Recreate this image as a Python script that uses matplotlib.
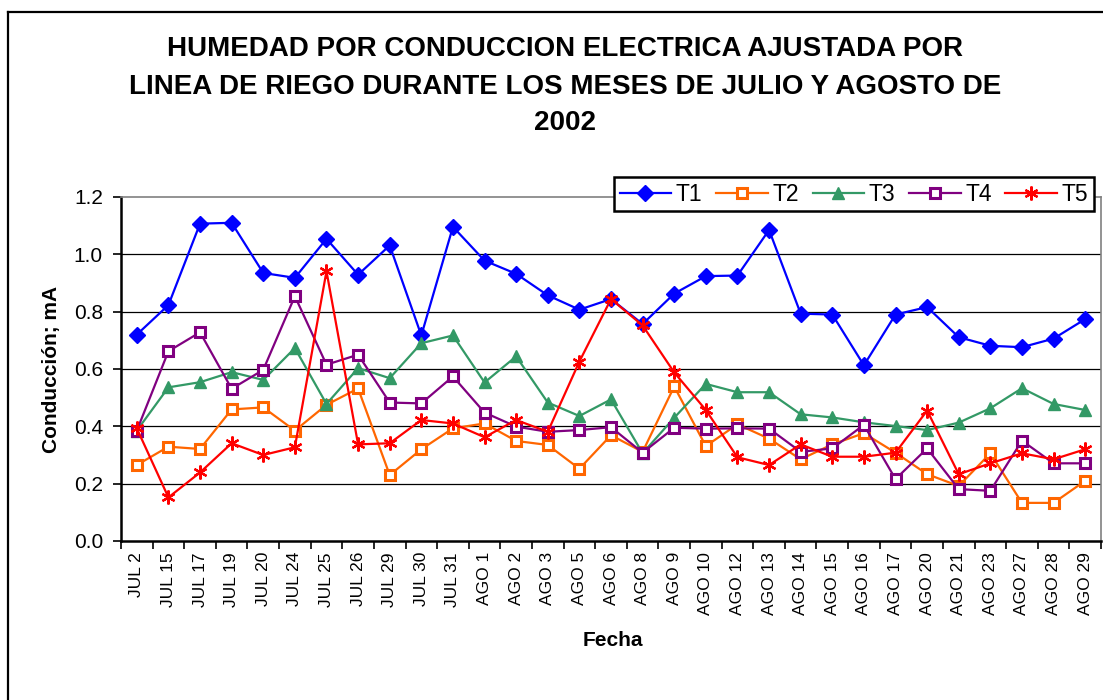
import matplotlib.pyplot as plt
from matplotlib.lines import Line2D

plt.rcParams['font.family'] = ['Liberation Sans', 'DejaVu Sans']

# fechas de medicion
fechas = ["JUL 2", "JUL 15", "JUL 17", "JUL 19", "JUL 20", "JUL 24", "JUL 25",
          "JUL 26", "JUL 29", "JUL 30", "JUL 31", "AGO 1", "AGO 2", "AGO 3",
          "AGO 5", "AGO 6", "AGO 8", "AGO 9", "AGO 10", "AGO 12", "AGO 13",
          "AGO 14", "AGO 15", "AGO 16", "AGO 17", "AGO 20", "AGO 21", "AGO 23",
          "AGO 27", "AGO 28", "AGO 29"]

# conduccion (mA) por linea de riego
t1 = [0.72, 0.823, 1.107, 1.11, 0.935, 0.918, 1.054, 0.929, 1.031, 0.717, 1.096,
      0.978, 0.932, 0.857, 0.807, 0.844, 0.757, 0.863, 0.924, 0.926, 1.085,
      0.793, 0.79, 0.613, 0.79, 0.816, 0.711, 0.681, 0.676, 0.706, 0.774]
t2 = [0.265, 0.329, 0.321, 0.459, 0.466, 0.385, 0.475, 0.532, 0.23, 0.32, 0.393,
      0.41, 0.349, 0.335, 0.252, 0.369, 0.311, 0.539, 0.331, 0.407, 0.357,
      0.285, 0.337, 0.376, 0.308, 0.233, 0.192, 0.306, 0.133, 0.133, 0.21]
t3 = [0.385, 0.536, 0.554, 0.589, 0.562, 0.673, 0.478, 0.603, 0.568, 0.69, 0.717,
      0.553, 0.644, 0.483, 0.436, 0.494, 0.306, 0.43, 0.548, 0.519, 0.519,
      0.442, 0.431, 0.414, 0.401, 0.387, 0.413, 0.463, 0.533, 0.478, 0.457]
t4 = [0.385, 0.662, 0.728, 0.531, 0.597, 0.854, 0.615, 0.65, 0.483, 0.48, 0.574,
      0.448, 0.399, 0.381, 0.387, 0.397, 0.308, 0.395, 0.392, 0.393, 0.392,
      0.311, 0.323, 0.405, 0.216, 0.323, 0.181, 0.175, 0.35, 0.271, 0.271]
t5 = [0.393, 0.152, 0.239, 0.341, 0.3, 0.327, 0.941, 0.337, 0.341, 0.422, 0.41,
      0.362, 0.422, 0.381, 0.626, 0.844, 0.752, 0.588, 0.457, 0.292, 0.265,
      0.337, 0.294, 0.294, 0.308, 0.455, 0.233, 0.271, 0.306, 0.285, 0.32]

nombres = ["T1", "T2", "T3", "T4", "T5"]
colores = ["#0000FF", "#FF6600", "#339966", "#800080", "#FF0000"]

W, H = 1103, 700
fig = plt.figure(figsize=(W / 100, H / 100), dpi=100)
ax = fig.add_axes([121 / W, 1 - 541 / H, (1101 - 121) / W, (541 - 197) / H])

x = list(range(len(fechas)))
estilos = [
    dict(marker="D", ms=8, mfc=colores[0], mec=colores[0]),
    dict(marker="s", ms=6.5, mfc="white", mec=colores[1], mew=2.2),
    dict(marker="^", ms=8.5, mfc=colores[2], mec=colores[2]),
    dict(marker="s", ms=6.5, mfc="white", mec=colores[3], mew=2.2),
    dict(marker=(6, 2, 0), ms=10, mec=colores[4], mew=1.6),
]
for serie, nombre, color, est in zip([t1, t2, t3, t4, t5], nombres, colores, estilos):
    ax.plot(x, serie, color=color, lw=1.6, label=nombre, clip_on=False, **est)

ax.set_xlim(-0.5, len(fechas) - 0.5)
ax.set_ylim(0, 1.2)
yt = [0.0, 0.2, 0.4, 0.6, 0.8, 1.0, 1.2]
ax.set_yticks(yt)
ax.set_yticklabels(["%.1f" % v for v in yt], fontsize=15)
for v in yt[1:-1]:
    ax.axhline(v, color="black", lw=0.9, zorder=0.5)

ax.set_xticks([i - 0.5 for i in range(len(fechas) + 1)])
ax.set_xticklabels([])
ax.set_xticks(x, minor=True)
ax.set_xticklabels(fechas, minor=True, rotation=90, fontsize=12.5)
ax.tick_params(axis="x", which="minor", length=0, pad=8)
ax.tick_params(axis="x", which="major", length=6, width=1.2, direction="out")
ax.tick_params(axis="y", length=6, width=1.2, direction="out", pad=7)

for s in ["top", "right"]:
    ax.spines[s].set_color("#808080")
    ax.spines[s].set_linewidth(1.2)
for s in ["left", "bottom"]:
    ax.spines[s].set_color("black")
    ax.spines[s].set_linewidth(1.8)

# titulo en tres lineas
titulo = ["HUMEDAD POR CONDUCCION ELECTRICA AJUSTADA POR",
          "LINEA DE RIEGO DURANTE LOS MESES DE JULIO Y AGOSTO DE",
          "2002"]
for yy, linea in zip([49, 87, 123], titulo):
    fig.text(565 / W, 1 - yy / H, linea, ha="center", va="center",
             fontsize=20, fontweight="bold")

fig.text(52 / W, 1 - 369 / H, "Conducción; mA", rotation=90, ha="center",
         va="center", fontsize=15, fontweight="bold")
fig.text(613 / W, 1 - 640 / H, "Fecha", ha="center", va="center",
         fontsize=15, fontweight="bold")

leg = ax.legend(loc="upper right", bbox_to_anchor=(1094 / W, 1 - 177 / H),
                bbox_transform=fig.transFigure, ncol=5, fontsize=16.5,
                frameon=True, fancybox=False, edgecolor="black",
                handlelength=2.25, handletextpad=0.2, columnspacing=0.6,
                borderpad=0.25, borderaxespad=0)
leg.get_frame().set_linewidth(1.8)
leg.get_frame().set_alpha(1)

# marco exterior del grafico
fig.add_artist(Line2D([8 / W, 8 / W], [0, 1 - 12 / H], color="black", lw=1.6,
                      transform=fig.transFigure))
fig.add_artist(Line2D([8 / W, 1], [1 - 12 / H, 1 - 12 / H], color="black", lw=1.6,
                      transform=fig.transFigure))

fig.savefig("out.png", dpi=100)
